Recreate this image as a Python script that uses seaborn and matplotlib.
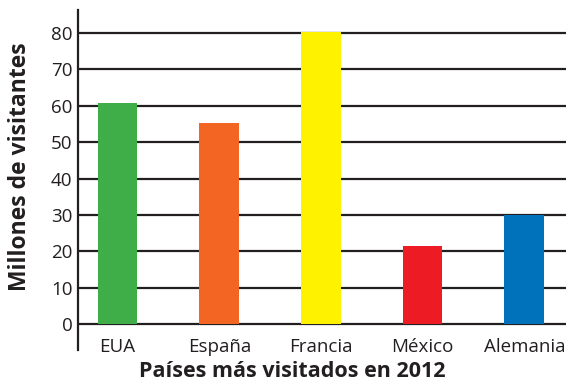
import matplotlib
matplotlib.use('Agg')
import matplotlib.pyplot as plt
import seaborn as sns
import pandas as pd

# Datos
paises = ['EUA', 'España', 'Francia', 'México', 'Alemania']
visitantes = [60.7, 55.2, 80.2, 21.5, 30.0]
colores = ['#3fae49', '#f26522', '#fff200', '#ed1c24', '#0072bc']
ticks_y = [0, 10, 20, 30, 40, 50, 60, 70, 80]

df = pd.DataFrame({'Pais': paises, 'Visitantes': visitantes})

sns.set_style('white')
plt.rcParams['font.family'] = ['Open Sans', 'DejaVu Sans']

fig = plt.figure(figsize=(5.66, 3.82), dpi=100)
ax = fig.add_axes([78 / 566, 1 - 350 / 382, 1 - 78 / 566, 340 / 382])

sns.barplot(data=df, x='Pais', y='Visitantes', hue='Pais', palette=colores,
            width=0.39, saturation=1, legend=False, ax=ax, zorder=3,
            linewidth=0)

# líneas horizontales
for t in ticks_y:
    ax.axhline(t, color='#231f20', linewidth=1.6, zorder=1)

ax.set_xlim(-0.39, 4.41)
ax.set_ylim(-7.1, 86.3)
ax.set_yticks(ticks_y)
ax.tick_params(axis='y', length=0, pad=4, labelsize=13.5, colors='#231f20')
ax.tick_params(axis='x', length=0, pad=-9, labelsize=13.5, colors='#231f20')

for side in ['top', 'right', 'bottom']:
    ax.spines[side].set_visible(False)
ax.spines['left'].set_color('#231f20')
ax.spines['left'].set_linewidth(1.6)

ax.set_xlabel('Países más visitados en 2012', fontsize=15.5, fontweight='bold',
              color='#231f20')
ax.xaxis.set_label_coords(0.44, -0.062, transform=ax.transAxes)
ax.xaxis.label.set_va('center')
ax.set_ylabel('Millones de visitantes', fontsize=16.5, fontweight='bold',
              color='#231f20')
ax.yaxis.set_label_coords(-0.119, 0.538, transform=ax.transAxes)
ax.yaxis.label.set_va('center')

fig.savefig('out.png', dpi=100)
